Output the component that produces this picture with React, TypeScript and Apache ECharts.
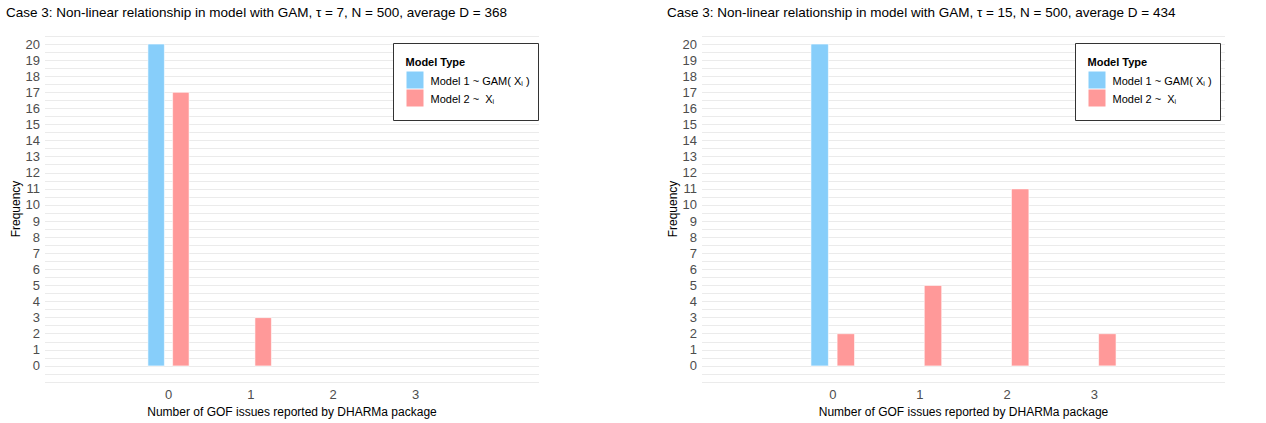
import React, { useEffect, useRef } from "react";
import * as echarts from "echarts";

// Number of GOF issues reported (x positions)
const issueCounts = [0, 1, 2, 3];

// Frequencies per panel and model
const leftModel1 = [20, 0, 0, 0];
const leftModel2 = [17, 3, 0, 0];
const rightModel1 = [20, 0, 0, 0];
const rightModel2 = [2, 5, 11, 2];

const yTicks = [0, 1, 2, 3, 4, 5, 6, 7, 8, 9, 10, 11, 12, 13, 14, 15, 16, 17, 18, 19, 20];

const leftTitle = "Case 3: Non-linear relationship in model with GAM, \u03C4 = 7, N = 500, average D = 368";
const rightTitle = "Case 3: Non-linear relationship in model with GAM, \u03C4 = 15, N = 500, average D = 434";

const model1Color = "#87CEFA";
const model2Color = "#FF9999";
const FONT = "Liberation Sans, Arial, sans-serif";

const dodge = 0.15;
const halfWidth = 0.1;

function barSeries(values: number[], offset: number, color: string, axisIndex: number, name: string) {
  return {
    type: "custom",
    name,
    xAxisIndex: axisIndex,
    yAxisIndex: axisIndex,
    encode: { x: 0, y: 1 },
    data: issueCounts.map((c, i) => [c, values[i]]),
    renderItem: (params: any, api: any) => {
      const x = api.value(0);
      const y = api.value(1);
      if (!y) return null;
      const p1 = api.coord([x + offset - halfWidth, y]);
      const p2 = api.coord([x + offset + halfWidth, 0]);
      return {
        type: "rect",
        shape: { x: p1[0], y: p1[1], width: p2[0] - p1[0], height: p2[1] - p1[1] },
        style: { fill: color, stroke: "#ffffff", lineWidth: 0.6 },
      };
    },
  };
}

function xAxis(gridIndex: number) {
  return {
    type: "value",
    gridIndex,
    min: -1.5,
    max: 4.5,
    interval: 0.5,
    name: "Number of GOF issues reported by DHARMa package",
    nameLocation: "middle",
    nameGap: 24,
    nameTextStyle: { color: "#000", fontSize: 12, fontFamily: FONT },
    axisLine: { show: false },
    axisTick: { show: false },
    splitLine: { show: false },
    axisLabel: {
      margin: 6,
      color: "#4d4d4d",
      fontSize: 13,
      fontFamily: FONT,
      formatter: (v: number) => (issueCounts.includes(v) ? String(v) : ""),
    },
  };
}

function yAxis(gridIndex: number) {
  return {
    type: "value",
    gridIndex,
    min: -1,
    max: 20.5,
    interval: 0.5,
    name: "Frequency",
    nameLocation: "middle",
    nameGap: 23,
    nameTextStyle: { color: "#000", fontSize: 12, fontFamily: FONT },
    axisLine: { show: false },
    axisTick: { show: false },
    splitLine: { show: true, lineStyle: { color: "#ebebeb", width: 1 } },
    axisLabel: {
      margin: 5,
      color: "#4d4d4d",
      fontSize: 13,
      fontFamily: FONT,
      formatter: (v: number) => (yTicks.includes(v) ? String(v) : ""),
    },
  };
}

function legendBox(left: number, top: number) {
  const rich = {
    t: { fontSize: 11, fontFamily: FONT, color: "#1a1a1a" },
    s: { fontSize: 7, fontFamily: FONT, color: "#1a1a1a", padding: [6, 0, 0, 0] },
  };
  return {
    type: "group",
    left,
    top,
    z: 100,
    children: [
      {
        type: "rect",
        z: 100,
        shape: { x: 0, y: 0, width: 145, height: 77 },
        style: { fill: "#fff", stroke: "#333", lineWidth: 1 },
      },
      {
        type: "text",
        z: 101,
        x: 12,
        y: 18,
        style: { text: "Model Type", fontSize: 11, fontWeight: "bold", fontFamily: FONT, fill: "#000", verticalAlign: "middle" },
      },
      { type: "rect", z: 101, shape: { x: 13, y: 28, width: 17, height: 17 }, style: { fill: model1Color } },
      { type: "rect", z: 101, shape: { x: 13, y: 46, width: 17, height: 17 }, style: { fill: model2Color } },
      {
        type: "text",
        z: 101,
        x: 37,
        y: 37,
        style: { text: "{t|Model 1 ~ GAM( X}{s|i}{t| )}", rich, verticalAlign: "middle" },
      },
      {
        type: "text",
        z: 101,
        x: 37,
        y: 55,
        style: { text: "{t|Model 2 ~  X}{s|i}", rich, verticalAlign: "middle" },
      },
    ],
  };
}

export default function App() {
  const ref = useRef<HTMLDivElement>(null);

  useEffect(() => {
    if (!ref.current) return;
    const chart = echarts.init(ref.current, null, { renderer: "svg" });
    const titleStyle = { fontSize: 13.5, fontWeight: "normal", color: "#000", fontFamily: FONT };
    chart.setOption({
      animation: false,
      backgroundColor: "#ffffff",
      title: [
        { text: leftTitle, left: 6, top: 5, padding: 0, textStyle: titleStyle },
        { text: rightTitle, left: 667, top: 5, padding: 0, textStyle: titleStyle },
      ],
      grid: [
        { left: 45, right: 727, top: 36, bottom: 35 },
        { left: 702, right: 41, top: 36, bottom: 35 },
      ],
      xAxis: [xAxis(0), xAxis(1)],
      yAxis: [yAxis(0), yAxis(1)],
      series: [
        barSeries(leftModel1, -dodge, model1Color, 0, "Model 1"),
        barSeries(leftModel2, dodge, model2Color, 0, "Model 2"),
        barSeries(rightModel1, -dodge, model1Color, 1, "Model 1"),
        barSeries(rightModel2, dodge, model2Color, 1, "Model 2"),
      ],
      graphic: [legendBox(393, 43), legendBox(1075, 43)],
    });
    return () => chart.dispose();
  }, []);

  return (
    <div
      ref={ref}
      style={{ position: "absolute", left: 0, top: 0, width: 1266, height: 423, background: "#fff" }}
    />
  );
}
